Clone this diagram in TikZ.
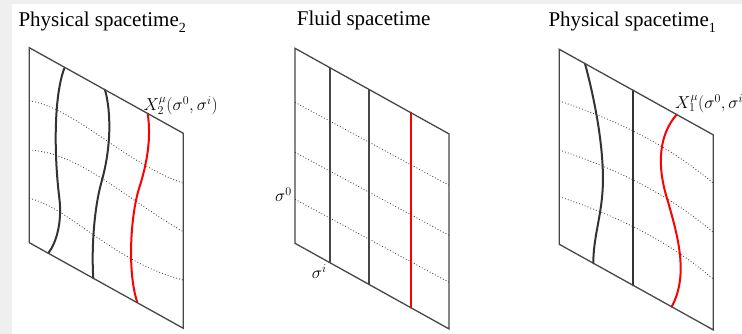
\documentclass[tikz,border=0pt]{standalone}
\usepackage{fontspec}
\setmainfont{Liberation Serif}
\usepackage{tikz}
\usetikzlibrary{positioning,calc}
\definecolor{lineRed}{HTML}{FF0000}
\definecolor{shotGray}{HTML}{EFEFEF}
\tikzset{
  frame/.style={draw=black!72,line width=1.3pt,line join=miter},
  world/.style={draw=black!80,line width=2pt,line cap=round},
  worldred/.style={draw=lineRed,line width=2pt,line cap=round},
  grid/.style={draw=black!72,line width=1.3pt},
  slice/.style={draw=black!75,line width=0.8pt,dash pattern=on 0.9pt off 2.1pt},
  ttl/.style={font=\fontsize{21}{24}\selectfont,inner sep=0pt,anchor=base west},
  lab/.style={font=\fontsize{17}{20}\selectfont,inner sep=0pt},
}
\newcommand{\sub}[1]{\raisebox{-6pt}{\fontsize{14}{14}\selectfont #1}}

\begin{document}
\begin{tikzpicture}[x=1pt,y=-1pt]
\useasboundingbox (0,0) rectangle (742,334);
\fill[shotGray] (0,0) rectangle (742,334);
\fill[white] (12,4) rectangle (742,334);

% titles
\node[ttl] (t2) at (18.3,27) {Physical spacetime\sub{2}};
\node[ttl] (tf) at (296.7,26) {Fluid spacetime};
\node[ttl] (t1) at (548.3,27) {Physical spacetime\sub{1}};

% physical spacetime 2
\begin{scope}[shift={(29.3,47.7)}]
\draw[slice] (0,53) .. controls (45,60) and (95,115) .. (154,135.6);
\draw[slice] (0,102.3) .. controls (50,105) and (95,150) .. (154,184);
\draw[slice] (0,150.6) .. controls (40,160) and (85,215) .. (154,232.3);
\draw[world] (35,20.6) .. controls (24,50) and (25,110) .. (30,150)
  .. controls (33,175) and (27,195) .. (19,205.5);
\draw[world] (75.7,42) .. controls (82,65) and (82,100) .. (72,135)
  .. controls (65,160) and (62,200) .. (64,230.6);
\draw[worldred] (118.4,66) .. controls (122,90) and (118,115) .. (110,140)
  .. controls (101,168) and (98,225) .. (108,254.6);
\draw[frame] (0,0) -- (154,85.6) -- (154,280.6) -- (0,195) -- cycle;
\node[lab,anchor=base west] (x2) at (114,63.3) {$X_2^\mu(\sigma^0,\sigma^i)$};
\end{scope}

% fluid spacetime
\begin{scope}[shift={(295,48.3)}]
\foreach \h in {54,104,151}
  \draw[slice] (0,\h) -- (154,\h+83);
\draw[grid] (35,19.5) -- (35,214.5);
\draw[grid] (74,41.1) -- (74,236.1);
\draw[worldred] (115.7,64.3) -- (115.7,259.3);
\draw[frame] (0,0) -- (154,85.6) -- (154,280.6) -- (0,195) -- cycle;
\node[lab,anchor=base east] (s0) at (-3,153.4) {$\sigma^0$};
\node[lab,anchor=base west] (si) at (16.7,230) {$\sigma^i$};
\end{scope}

% physical spacetime 1
\begin{scope}[shift={(559.3,49.3)}]
\foreach \h in {51.7,100.7,147.4}
  \draw[slice] (0,\h) .. controls (60,\h+20) and (110,\h+45) .. (154,\h+82.3);
\draw[world] (25.7,14.3) .. controls (38,60) and (46,110) .. (43,145)
  .. controls (41,170) and (34,190) .. (34,214);
\draw[world] (74,41.1) -- (74,236.1);
\draw[worldred] (117.4,65.2) .. controls (100,85) and (97,115) .. (108,150)
  .. controls (118,185) and (130,225) .. (112.4,257.4);
\draw[frame] (0,0) -- (154,85.6) -- (154,280.6) -- (0,195) -- cycle;
\node[lab,anchor=base west] (x1) at (115.7,59) {$X_1^\mu(\sigma^0,\sigma^i)$};
\end{scope}
\end{tikzpicture}
\end{document}
